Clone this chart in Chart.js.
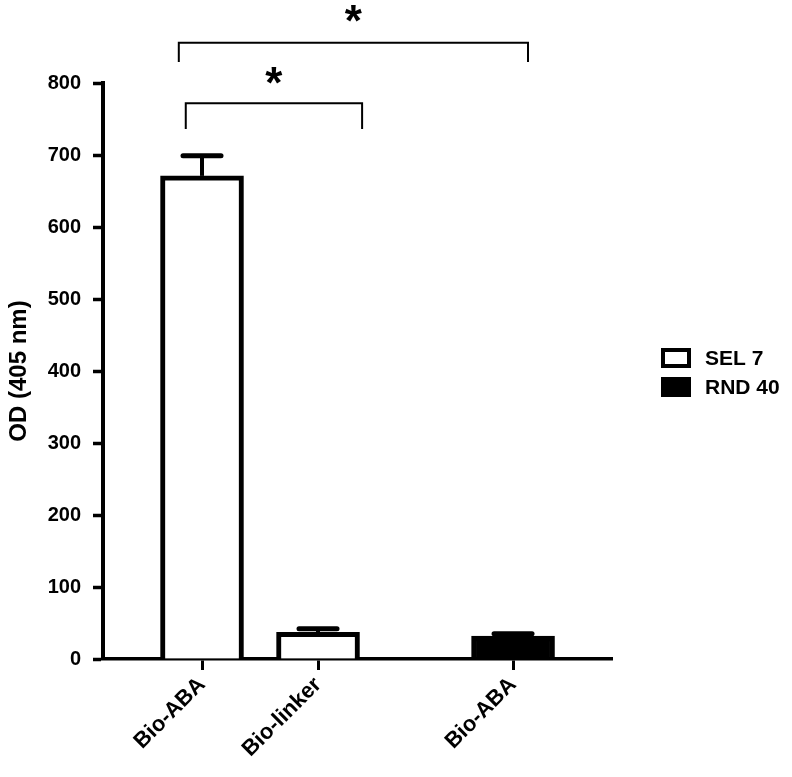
<!DOCTYPE html>
<html>
<head>
<meta charset="utf-8">
<script src="https://cdn.jsdelivr.net/npm/chart.js@4.4.1/dist/chart.umd.min.js"></script>
<style>
  html, body { margin: 0; padding: 0; background: #fff; }
  #wrap { width: 792px; height: 777px; position: relative; }
</style>
</head>
<body>
<div id="wrap"><canvas id="od-chart"></canvas></div>
<script>
const categories = ['Bio-ABA', 'Bio-linker', 'Bio-ABA'];
const seriesNames = ['SEL 7', 'RND 40'];
const sel7Values = [671, 37, null];
const sel7Errors = [28, 5, null];
const rnd40Values = [null, null, 32];
const rnd40Errors = [null, null, 3];
const yTickValues = [0, 100, 200, 300, 400, 500, 600, 700, 800];
const yTitle = 'OD (405 nm)';
// significance brackets, in axis units (x = slot units, y = OD)
const brackets = [
  { label: '*', x0: 0.86, x1: 2.38, top: 772, foot: 736, star: 810 },
  { label: '*', x0: 0.80, x1: 3.81, top: 856, foot: 829, star: 897 }
];

// where each category sits on the x axis (gap before the RND 40 group)
const slotPos = [1, 2, 3.681];
const FONT = "'Liberation Sans', Arial, sans-serif";

function toPoints(values) {
  const pts = [];
  values.forEach(function (v, i) {
    if (v != null) pts.push({ x: slotPos[i], y: v, i: i });
  });
  return pts;
}

// error bars: upper whisker + cap only
const errorBars = {
  id: 'errorBars',
  afterDatasetsDraw(chart) {
    const ctx = chart.ctx;
    const y = chart.scales.y;
    chart.data.datasets.forEach(function (ds, di) {
      const meta = chart.getDatasetMeta(di);
      meta.data.forEach(function (bar, j) {
        const raw = ds.data[j];
        const err = ds.errors[raw.i];
        if (err == null) return;
        const capY = y.getPixelForValue(raw.y + err);
        ctx.save();
        ctx.strokeStyle = '#000';
        ctx.lineWidth = 4;
        ctx.beginPath();
        ctx.moveTo(bar.x, bar.y);
        ctx.lineTo(bar.x, capY);
        ctx.stroke();
        ctx.lineWidth = 5;
        ctx.lineCap = 'round';
        ctx.beginPath();
        ctx.moveTo(bar.x - 19, capY);
        ctx.lineTo(bar.x + 19, capY);
        ctx.stroke();
        ctx.restore();
      });
    });
  }
};

const sigBrackets = {
  id: 'sigBrackets',
  afterDraw(chart) {
    const ctx = chart.ctx;
    const x = chart.scales.x, y = chart.scales.y;
    ctx.save();
    ctx.strokeStyle = '#000';
    ctx.fillStyle = '#000';
    ctx.lineWidth = 2;
    brackets.forEach(function (b) {
      const l = x.getPixelForValue(b.x0), r = x.getPixelForValue(b.x1);
      const t = y.getPixelForValue(b.top), f = y.getPixelForValue(b.foot);
      ctx.beginPath();
      ctx.moveTo(l, f);
      ctx.lineTo(l, t);
      ctx.lineTo(r, t);
      ctx.lineTo(r, f);
      ctx.stroke();
      ctx.font = 'bold 44px ' + FONT;
      ctx.textAlign = 'center';
      ctx.textBaseline = 'alphabetic';
      const m = ctx.measureText(b.label);
      const cy = y.getPixelForValue(b.star);
      ctx.fillText(b.label, (l + r) / 2, cy + (m.actualBoundingBoxAscent - m.actualBoundingBoxDescent) / 2);
    });
    ctx.restore();
  }
};

// legend drawn by hand so it can sit apart from the axis like the original
const boxLegend = {
  id: 'boxLegend',
  afterDraw(chart) {
    const ctx = chart.ctx, area = chart.chartArea;
    const left = area.right + 49;
    const mid = (area.top + area.bottom) / 2;
    ctx.save();
    ctx.font = 'bold 21px ' + FONT;
    ctx.textBaseline = 'middle';
    ctx.textAlign = 'left';
    chart.data.datasets.forEach(function (ds, i) {
      const cy = mid - 13 + i * 29;
      if (ds.backgroundColor === '#000') {
        ctx.fillStyle = '#000';
        ctx.fillRect(left, cy - 10, 30, 20);
      } else {
        ctx.strokeStyle = '#000';
        ctx.lineWidth = 4;
        ctx.strokeRect(left + 2, cy - 8, 26, 16);
      }
      ctx.fillStyle = '#000';
      ctx.fillText(ds.label, left + 44, cy + 1);
    });
    ctx.restore();
  }
};

const ctx = document.getElementById('od-chart').getContext('2d');
new Chart(ctx, {
  type: 'bar',
  data: {
    datasets: [
      {
        label: seriesNames[0],
        data: toPoints(sel7Values),
        errors: sel7Errors,
        backgroundColor: '#fff',
        borderColor: '#000',
        borderWidth: 5,
        barThickness: 83,
        grouped: false
      },
      {
        label: seriesNames[1],
        data: toPoints(rnd40Values),
        errors: rnd40Errors,
        backgroundColor: '#000',
        borderColor: '#000',
        borderWidth: 5,
        barThickness: 83,
        grouped: false
      }
    ]
  },
  options: {
    responsive: true,
    maintainAspectRatio: false,
    animation: false,
    layout: {
      padding: { top: 83, left: 5, right: 180, bottom: 0 }
    },
    scales: {
      x: {
        type: 'linear',
        offset: false,
        min: 0.1466,
        max: 4.534,
        afterBuildTicks: function (scale) {
          scale.ticks = slotPos.map(function (v) { return { value: v }; });
        },
        afterFit: function (scale) { scale.height = 118; },
        grid: {
          display: true,
          offset: false,
          drawOnChartArea: false,
          drawTicks: true,
          tickLength: 11,
          tickWidth: 3,
          tickColor: '#000'
        },
        border: { display: true, color: '#000', width: 3.5 },
        ticks: {
          autoSkip: false,
          minRotation: 45,
          maxRotation: 45,
          padding: 2,
          color: '#000',
          font: { family: FONT, size: 22, weight: 'bold' },
          callback: function (value, index) { return categories[index]; }
        }
      },
      y: {
        min: 0,
        max: 800,
        afterBuildTicks: function (scale) {
          scale.ticks = yTickValues.map(function (v) { return { value: v }; });
        },
        afterFit: function (scale) { scale.width = 98; },
        grid: {
          display: true,
          drawOnChartArea: false,
          drawTicks: true,
          tickLength: 10,
          tickWidth: 3.5,
          tickColor: '#000'
        },
        border: { display: true, color: '#000', width: 4 },
        ticks: {
          padding: 12,
          color: '#000',
          font: { family: FONT, size: 20, weight: 'bold' }
        },
        title: {
          display: true,
          text: yTitle,
          color: '#000',
          padding: { top: 0, bottom: 0 },
          font: { family: FONT, size: 24, weight: 'bold' }
        }
      }
    },
    plugins: {
      legend: { display: false },
      tooltip: { enabled: false }
    }
  },
  plugins: [errorBars, sigBrackets, boxLegend]
});
</script>
</body>
</html>
